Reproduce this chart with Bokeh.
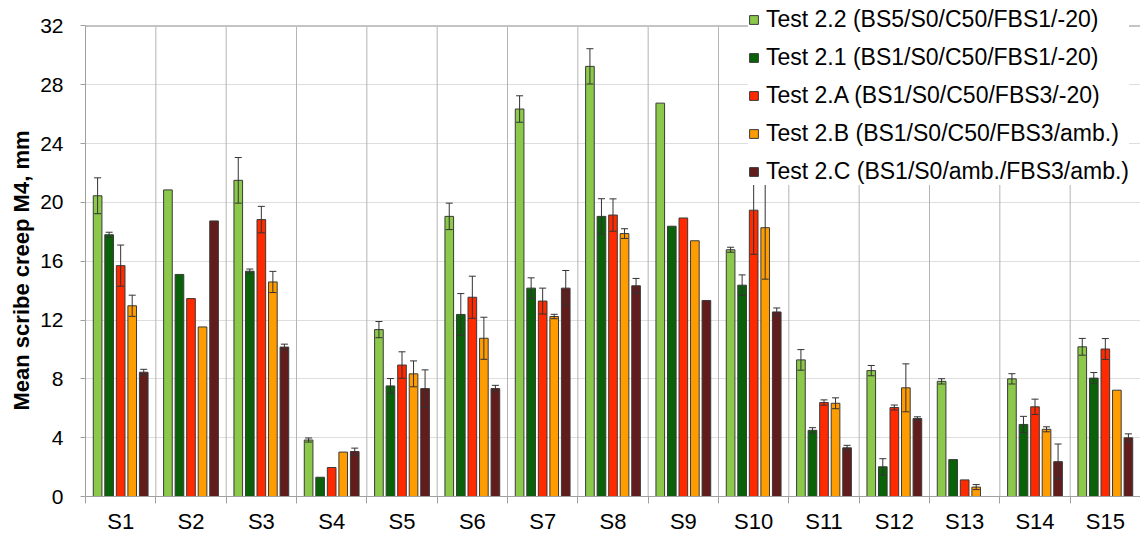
import numpy as np
from bokeh.plotting import figure
from bokeh.models import Range1d, FixedTicker, Legend, LegendItem, Title
from bokeh.embed import file_html
from bokeh.resources import INLINE

categories = ["S1", "S2", "S3", "S4", "S5", "S6", "S7", "S8", "S9", "S10",
              "S11", "S12", "S13", "S14", "S15"]

series_names = [
    "Test 2.2 (BS5/S0/C50/FBS1/-20)",
    "Test 2.1 (BS1/S0/C50/FBS1/-20)",
    "Test 2.A (BS1/S0/C50/FBS3/-20)",
    "Test 2.B (BS1/S0/C50/FBS3/amb.)",
    "Test 2.C (BS1/S0/amb./FBS3/amb.)",
]
series_colors = ["#8CC94B", "#0A6208", "#FF2A00", "#FF9C00", "#621C1C"]

t22 = [20.45, 20.85, 21.5, 3.84, 11.35, 19.05, 26.35, 29.25, 26.75, 16.78, 9.29, 8.56, 7.83, 8.0, 10.18]
t22_err = [1.22, 0, 1.55, 0.14, 0.55, 0.9, 0.9, 1.2, 0, 0.17, 0.7, 0.35, 0.18, 0.35, 0.57]
t21 = [17.8, 15.1, 15.32, 1.31, 7.52, 12.38, 14.17, 19.05, 18.38, 14.37, 4.5, 2.02, 2.51, 4.9, 8.05]
t21_err = [0.17, 0, 0.15, 0, 0.5, 1.42, 0.7, 1.2, 0, 0.7, 0.18, 0.55, 0, 0.55, 0.38]
t2a = [15.7, 13.46, 18.83, 1.97, 8.94, 13.55, 13.29, 19.14, 18.94, 19.47, 6.39, 6.05, 1.13, 6.1, 10.03]
t2a_err = [1.4, 0, 0.9, 0, 0.9, 1.43, 0.88, 1.1, 0, 3.0, 0.18, 0.17, 0, 0.52, 0.71]
t2b = [12.97, 11.53, 14.59, 3.02, 8.34, 10.76, 12.24, 17.88, 17.39, 18.28, 6.34, 7.39, 0.64, 4.57, 7.23]
t2b_err = [0.72, 0, 0.72, 0, 0.88, 1.43, 0.15, 0.33, 0, 3.5, 0.37, 1.63, 0.17, 0.17, 0]
t2c = [8.45, 18.74, 10.16, 3.06, 7.34, 7.34, 14.17, 14.33, 13.33, 12.55, 3.31, 5.3, float("nan"), 2.37, 3.99]
t2c_err = [0.2, 0, 0.2, 0.23, 1.27, 0.22, 1.2, 0.5, 0, 0.27, 0.17, 0.12, 0, 1.2, 0.27]

y_ticks = [0, 4, 8, 12, 16, 20, 24, 28, 32]
y_max = 32
y_title = "Mean scribe creep M4, mm"

values = [t22, t21, t2a, t2b, t2c]
errors = [t22_err, t21_err, t2a_err, t2b_err, t2c_err]

n = len(categories)
centers = list(range(n))
bounds = [i - 0.5 for i in range(n + 1)]

# frame: top of canvas down to 507px; value 32 sits 26px below the top
frame_h = 507
y_end = y_max * frame_h / 481.0

p = figure(width=1140, height=536, x_range=Range1d(-0.5, n - 0.5), y_range=Range1d(0, y_end),
           output_backend="svg", toolbar_location=None,
           min_border_left=85, min_border_right=0, min_border_top=0, min_border_bottom=29)
p.background_fill_color = "white"
p.border_fill_color = "white"
p.outline_line_color = None

FONT = "Liberation Sans"

# x axis
p.xaxis.ticker = FixedTicker(ticks=centers, minor_ticks=bounds)
p.xaxis.major_label_overrides = {i: c for i, c in enumerate(categories)}
p.xaxis.major_tick_line_color = None
p.xaxis.major_tick_out = 0
p.xaxis.major_tick_in = 0
p.xaxis.minor_tick_out = 7
p.xaxis.minor_tick_in = 0
p.xaxis.minor_tick_line_color = "#a0a0a0"
p.xaxis.axis_line_color = "#a0a0a0"
p.xaxis.major_label_standoff = 5
p.xaxis.major_label_text_font = FONT
p.xaxis.major_label_text_font_size = "22px"
p.xaxis.major_label_text_color = "black"

# y axis
p.yaxis.ticker = FixedTicker(ticks=y_ticks, minor_ticks=[])
p.yaxis.bounds = (0, y_max)
p.yaxis.major_tick_out = 5
p.yaxis.major_tick_in = 0
p.yaxis.major_tick_line_color = "#a0a0a0"
p.yaxis.axis_line_color = "#a0a0a0"
p.yaxis.major_label_standoff = 17
p.yaxis.major_label_text_font = FONT
p.yaxis.major_label_text_font_size = "21px"
p.yaxis.major_label_text_color = "black"

# y-axis title, placed along the 0..32 part of the axis
p.add_layout(Title(text=y_title, align="left", offset=86, standoff=8,
                   text_font=FONT, text_font_style="bold", text_font_size="22px",
                   text_color="black"), "left")

# grids
p.xgrid.visible = False
p.ygrid.ticker = FixedTicker(ticks=y_ticks)
p.ygrid.grid_line_color = "#bdbdbd"
p.ygrid.grid_line_dash = "1 1"

# category separators and plot-area border (top)
p.segment(x0=bounds, y0=[0] * len(bounds), x1=bounds, y1=[y_max] * len(bounds),
          line_color="#b4b4b4", line_width=1)
p.segment(x0=[-0.5], y0=[y_max], x1=[n - 0.5], y1=[y_max], line_color="#c4c4c4", line_width=2)

bar_w = 0.123
pitch = 0.164
cap = 0.05

renderers = []
for k, (vals, col) in enumerate(zip(values, series_colors)):
    off = (k - 2) * pitch
    xs = [c + off for c in centers]
    r = p.vbar(x=xs, top=vals, bottom=0, width=bar_w, fill_color=col,
               line_color="#3a3a3a", line_width=1)
    renderers.append(r)

for k, (vals, errs) in enumerate(zip(values, errors)):
    off = (k - 2) * pitch
    xs, lo, hi = [], [], []
    for c, v, e in zip(centers, vals, errs):
        if e > 0 and not np.isnan(v):
            xs.append(c + off)
            lo.append(v - e)
            hi.append(v + e)
    xs = np.array(xs)
    p.segment(x0=xs, y0=lo, x1=xs, y1=hi, line_color="#333333", line_width=1)
    p.segment(x0=xs - cap, y0=hi, x1=xs + cap, y1=hi, line_color="#333333", line_width=1)
    p.segment(x0=xs - cap, y0=lo, x1=xs + cap, y1=lo, line_color="#333333", line_width=1)

legend = Legend(items=[LegendItem(label=nm, renderers=[r]) for nm, r in zip(series_names, renderers)],
                location=(663, 311))
legend.glyph_width = 11
legend.glyph_height = 11
legend.label_standoff = 7
legend.padding = 8
legend.spacing = 11
legend.label_height = 21
legend.margin = 0
legend.border_line_color = None
legend.background_fill_color = "white"
legend.background_fill_alpha = 1.0
legend.label_text_font = FONT
legend.label_text_font_size = "23px"
legend.label_text_color = "black"
p.add_layout(legend)

open("out.html", "w").write(file_html(p, INLINE))
